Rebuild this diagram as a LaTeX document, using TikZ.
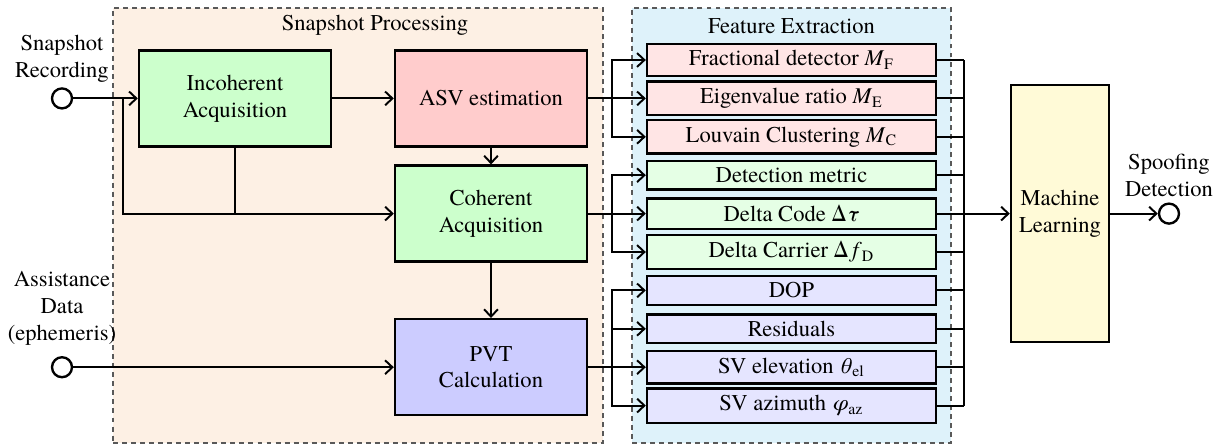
\documentclass[tikz,border=0pt]{standalone}
\usepackage{fontspec}
\setmainfont{texgyretermes}[Extension=.otf,UprightFont=*-regular,ItalicFont=*-italic,BoldFont=*-bold,BoldItalicFont=*-bolditalic]
\usetikzlibrary{arrows.meta}
\definecolor{snapbg}{RGB}{253,240,228}
\definecolor{featbg}{RGB}{222,242,250}
\definecolor{gfill}{RGB}{204,255,204}
\definecolor{rfill}{RGB}{255,204,204}
\definecolor{bfill}{RGB}{204,204,255}
\definecolor{rlite}{RGB}{255,229,229}
\definecolor{glite}{RGB}{229,255,229}
\definecolor{blite}{RGB}{229,229,255}
\definecolor{mlfill}{RGB}{255,250,215}
\def\pxu{0.465pt}
\newcommand{\symsub}[2]{\textit{#1}\textsubscript{#2}}
\begin{document}
\begin{tikzpicture}[x=0.465pt,y=-0.465pt,>={Straight Barb[length=3.4pt,width=6.4pt,line width=0.9pt]},
  every node/.style={font=\rmfamily\fontsize{10.5}{12.5}\selectfont},
  blk/.style={draw,line width=1.1pt,minimum width={192*\pxu},minimum height={96*\pxu},align=center},
  feat/.style={draw,line width=1.1pt,minimum width={289*\pxu},inner ysep=3.1pt,align=center},
  port/.style={draw,line width=1.1pt,circle,minimum size={20*\pxu},inner sep=0pt},
  grp/.style={draw=black!65,line width=0.6pt,dash pattern=on 2.3pt off 1.9pt,inner sep=0pt},
  conn/.style={line width=1pt}]
\useasboundingbox (0,0) rectangle (1220,447);
% containers
\node[grp,fill=snapbg,minimum width={490*\pxu},minimum height={435*\pxu}] (sp) at (358,225.5) {};
\node[grp,fill=featbg,minimum width={319*\pxu},minimum height={435*\pxu}] (fe) at (791.5,225.5) {};
\node (spt) at (375,25) {Snapshot Processing};
\node (fet) at (791.5,26) {Feature Extraction};
% main blocks
\node[blk,fill=gfill] (inc) at (235,98.4) {Incoherent\\Acquisition};
\node[blk,fill=rfill] (asv) at (491,98.4) {ASV estimation};
\node[blk,fill=gfill] (coh) at (491,213.6) {Coherent\\Acquisition};
\node[blk,fill=bfill] (pvt) at (491,367.2) {PVT\\Calculation};
% feature boxes
\node[feat,fill=rlite] (f1) at (791.5,60) {Fractional detector \symsub{M}{F}};
\node[feat,fill=rlite] (f2) at (791.5,98.4) {Eigenvalue ratio \symsub{M}{E}};
\node[feat,fill=rlite] (f3) at (791.5,136.8) {Louvain Clustering \symsub{M}{C}};
\node[feat,fill=glite] (f4) at (791.5,175.2) {Detection metric};
\node[feat,fill=glite] (f5) at (791.5,213.6) {Delta Code Δ\textit{τ}};
\node[feat,fill=glite] (f6) at (791.5,252) {Delta Carrier Δ\,\symsub{f}{D}};
\node[feat,fill=blite] (f7) at (791.5,290.4) {DOP};
\node[feat,fill=blite] (f8) at (791.5,328.8) {Residuals};
\node[feat,fill=blite] (f9) at (791.5,367.2) {SV elevation \symsub{θ}{el}};
\node[feat,fill=blite] (f10) at (791.5,405.6) {SV azimuth \symsub{φ}{az}};
% ML
\node[draw,line width=1.1pt,fill=mlfill,minimum width={98*\pxu},minimum height={257*\pxu},align=center] (ml) at (1060,213.6) {Machine\\Learning};
% ports
\node[port,fill=white] (snap) at (62,98.4) {};
\node[port,fill=white] (assist) at (62,367.2) {};
\node[port,fill=white] (spoof) at (1169,213.6) {};
\node[align=center] (snapl) at (62,59) {Snapshot\\Recording};
\node[align=center] (assistl) at (62,308) {Assistance\\Data\\(ephemeris)};
\node[align=center] (spoofl) at (1169,175) {Spoofing\\Detection};
% junction coordinates
\coordinate (j1) at (123,98.4);
\coordinate (b1) at (612,98.4);
\coordinate (b2) at (612,213.6);
\coordinate (b3) at (612,367.2);
\coordinate (busT) at (964,60);
\coordinate (busB) at (964,405.6);
\coordinate (busM) at (964,213.6);
% connectors left
\draw[conn,->] (snap) -- (inc.west);
\draw[conn,->] (j1) |- (coh.west);
\draw[conn] (inc.south) -- (inc.south |- coh.west);
\draw[conn,->] (inc.east) -- (asv.west);
\draw[conn,->] (asv.south) -- (coh.north);
\draw[conn,->] (coh.south) -- (pvt.north);
\draw[conn,->] (assist) -- (pvt.west);
% to features
\draw[conn,->] (asv.east) -- (f2.west);
\draw[conn,->] (b1) |- (f1.west);
\draw[conn,->] (b1) |- (f3.west);
\draw[conn,->] (coh.east) -- (f5.west);
\draw[conn,->] (b2) |- (f4.west);
\draw[conn,->] (b2) |- (f6.west);
\draw[conn,->] (pvt.east) -- (f9.west);
\draw[conn,->] (b3) |- (f7.west);
\draw[conn,->] (b3) |- (f8.west);
\draw[conn,->] (b3) |- (f10.west);
% bus
\foreach \i in {1,...,10} {\draw[conn] (f\i.east) -- (f\i.east -| busM);}
\draw[conn] (busT) -- (busB);
\draw[conn,->] (busM) -- (ml.west);
\draw[conn,->] (ml.east) -- (spoof.west);
\end{tikzpicture}
\end{document}
